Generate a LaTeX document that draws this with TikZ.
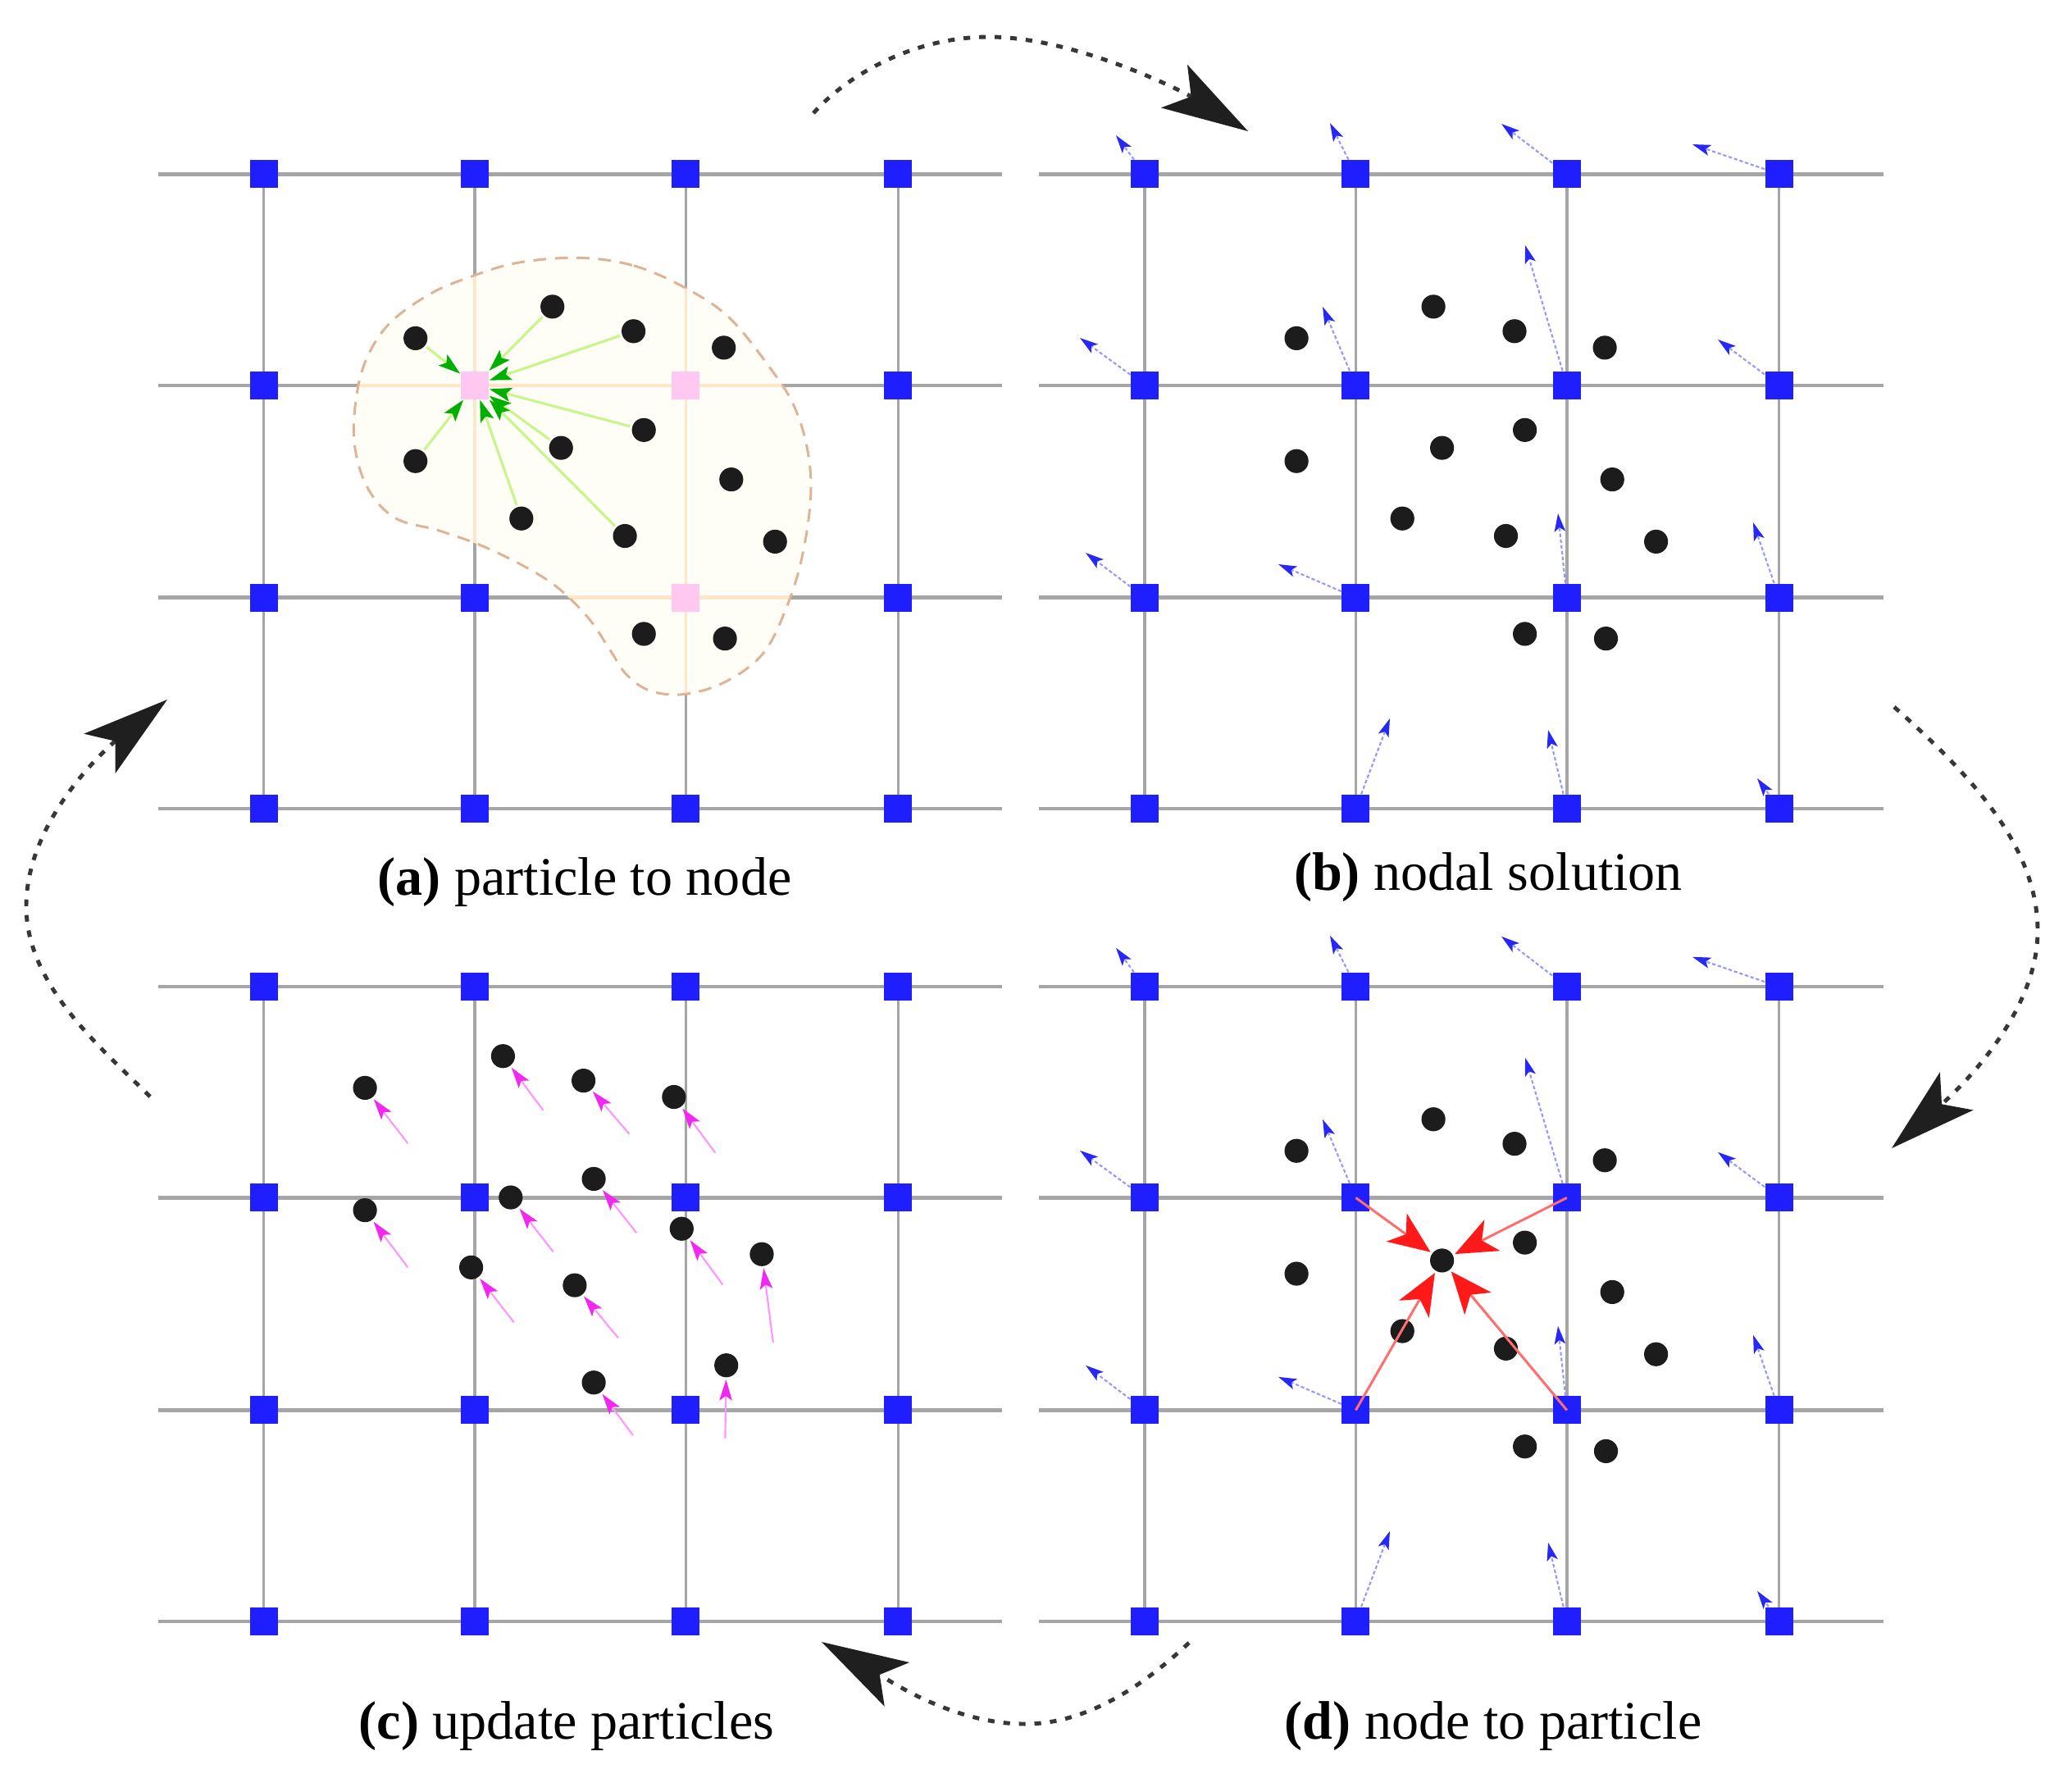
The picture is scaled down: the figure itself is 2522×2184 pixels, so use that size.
\documentclass[tikz,border=0pt]{standalone}
\usepackage{fontspec}
\setmainfont{Liberation Serif}
\usetikzlibrary{arrows.meta}
\definecolor{gridgray}{RGB}{165,165,165}
\definecolor{nodeblue}{RGB}{30,30,255}
\definecolor{dotblack}{RGB}{28,28,28}
\definecolor{blobfill}{RGB}{255,254,246}
\definecolor{blobedge}{RGB}{222,180,150}
\definecolor{peach}{RGB}{255,230,200}
\definecolor{pinknode}{RGB}{255,200,240}
\definecolor{greenline}{RGB}{200,245,140}
\definecolor{greenhead}{RGB}{0,175,0}
\definecolor{blueline}{RGB}{150,150,255}
\definecolor{bluehead}{RGB}{40,40,245}
\definecolor{magline}{RGB}{255,150,255}
\definecolor{maghead}{RGB}{240,40,240}
\definecolor{redline}{RGB}{255,110,110}
\definecolor{redhead}{RGB}{255,25,25}
\definecolor{cyclegray}{RGB}{55,55,55}
\begin{document}
\begin{tikzpicture}[x=0.01cm,y=-0.01cm,
  hline/.style={gridgray,line width=1.25pt},
  vline/.style={gridgray,line width=1.0pt},
  bsq/.style={rectangle,fill=nodeblue,minimum size=9.7pt,inner sep=0pt},
  psq/.style={rectangle,fill=pinknode,minimum size=9.7pt,inner sep=0pt},
  pdot/.style={circle,fill=dotblack,minimum size=8.3pt,inner sep=0pt,outer sep=0.8pt},
  garrow/.style={greenline,line width=0.9pt,-{Stealth[length=7.6pt,width=4.8pt,inset=1.5pt,color=greenhead]}},
  barrow/.style={blueline,line width=0.6pt,dash pattern=on 1.2pt off 0.8pt,-{Stealth[length=6.3pt,width=3.8pt,inset=1.4pt,color=bluehead]}},
  marrow/.style={magline,line width=0.6pt,-{Stealth[length=7.2pt,width=4.4pt,inset=1.5pt,color=maghead]}},
  rarrow/.style={redline,line width=0.85pt,-{Stealth[length=14.5pt,width=12pt,inset=4pt,color=redhead]}},
  cyc/.style={cyclegray,line width=1.4pt,dash pattern=on 2.3pt off 3.1pt,-{Stealth[length=29.9pt,width=17.4pt,inset=6.8pt,color=black!88]}},
  lbl/.style={anchor=base,font=\fontsize{18.8pt}{22pt}\selectfont,inner sep=0pt}
]
\fill[white] (0,0) rectangle (2522,2184);
\useasboundingbox (0,0) rectangle (2522,2184);

% ================= panel (a)
\foreach \y in {212.3,469.7,728.6,986.0} \draw[hline] (193,\y) -- (1222,\y);
\foreach \x in {321.7,579.0,836.4,1095.3} \draw[vline] (\x,212.3) -- (\x,986.0);
\fill[blobfill] plot[smooth cycle,tension=0.6] coordinates {(706.8,314.4) (773.1,324) (835.3,350.8) (889.2,387.2) (939,448.4) (968,494.3) (984.6,547.9) (988.7,605.3) (978.4,678) (959.7,739.2) (930.7,796.6) (885,831.1) (835.3,846.4) (793.9,842.6) (764.8,823.4) (744.1,792.8) (715.1,750.7) (669.5,708.6) (599,670.4) (536.8,647.4) (482.9,632.1) (449.8,597.6) (433.2,547.9) (433.2,494.3) (445.6,440.7) (474.6,394.8) (524.4,358.5) (574.1,337.4) (632.2,320.2)};
\begin{scope}
\clip plot[smooth cycle,tension=0.6] coordinates {(706.8,314.4) (773.1,324) (835.3,350.8) (889.2,387.2) (939,448.4) (968,494.3) (984.6,547.9) (988.7,605.3) (978.4,678) (959.7,739.2) (930.7,796.6) (885,831.1) (835.3,846.4) (793.9,842.6) (764.8,823.4) (744.1,792.8) (715.1,750.7) (669.5,708.6) (599,670.4) (536.8,647.4) (482.9,632.1) (449.8,597.6) (433.2,547.9) (433.2,494.3) (445.6,440.7) (474.6,394.8) (524.4,358.5) (574.1,337.4) (632.2,320.2)};
\foreach \y in {469.7,728.6} \draw[hline,peach] (193,\y) -- (1222,\y);
\foreach \x in {579.0,836.4} \draw[vline,peach] (\x,212.3) -- (\x,986.0);
\end{scope}
\draw[blobedge,line width=0.85pt,dash pattern=on 4.5pt off 3pt] plot[smooth cycle,tension=0.6] coordinates {(706.8,314.4) (773.1,324) (835.3,350.8) (889.2,387.2) (939,448.4) (968,494.3) (984.6,547.9) (988.7,605.3) (978.4,678) (959.7,739.2) (930.7,796.6) (885,831.1) (835.3,846.4) (793.9,842.6) (764.8,823.4) (744.1,792.8) (715.1,750.7) (669.5,708.6) (599,670.4) (536.8,647.4) (482.9,632.1) (449.8,597.6) (433.2,547.9) (433.2,494.3) (445.6,440.7) (474.6,394.8) (524.4,358.5) (574.1,337.4) (632.2,320.2)};
\foreach \x [count=\i] in {321.7,579.0,836.4,1095.3}
  \foreach \y [count=\j] in {212.3,469.7,728.6,986.0} {
    \pgfmathtruncatemacro\pk{((\i==2)&&(\j==2))||((\i==3)&&(\j==2))||((\i==3)&&(\j==3))}
    \ifnum\pk=1 \node[psq] (a\i\j) at (\x,\y) {}; \else \node[bsq] (a\i\j) at (\x,\y) {}; \fi
  }
\foreach \x/\y [count=\k] in {1581.1/412.4,1748.1/373.9,1847.0/403.8,1957.1/423.9,1581.1/562.2,1758.6/546.1,1859.6/524.3,1966.2/584.6,1710.2/632.2,1836.5/653.5,2019.6/660.4,1859.6/772.9,1958.5/778.6}
  \node[pdot] (ad\k) at (\x-1074.4,\y) {};
\foreach \k in {1,2,3,5,6,7,9,10} \draw[garrow] (ad\k) -- (a22);

% ================= panel (b)
\foreach \y in {212.3,469.7,728.6,986.0} \draw[hline] (1267,\y) -- (2297,\y);
\foreach \x in {1396.1,1653.4,1910.8,2169.7} \draw[vline] (\x,212.3) -- (\x,986.0);
\foreach \x [count=\i] in {1396.1,1653.4,1910.8,2169.7}
  \foreach \y [count=\j] in {212.3,469.7,728.6,986.0}
    \node[bsq] (b\i\j) at (\x,\y) {};
\foreach \x/\y [count=\k] in {1581.1/412.4,1748.1/373.9,1847.0/403.8,1957.1/423.9,1581.1/562.2,1758.6/546.1,1859.6/524.3,1966.2/584.6,1710.2/632.2,1836.5/653.5,2019.6/660.4,1859.6/772.9,1958.5/778.6}
  \node[pdot] (bd\k) at (\x,\y) {};
\foreach \n/\x/\y in {11/1361/165,21/1622/150,31/1831/151,41/2064/176,12/1317/412,22/1613/374,32/1860/299,42/2095/414,13/1324/674,23/1559/688,33/1900/626,43/2138/637,24/1695/876,34/1888/890,44/2143/949} {
  \coordinate (bt\n) at (\x,\y);
  \draw[barrow] (b\n) -- (bt\n);
}

% ================= panel (c)
\foreach \y in {1203.1,1460.4,1719.4,1976.7} \draw[hline] (193,\y) -- (1222,\y);
\foreach \x in {321.7,579.0,836.4,1095.3} \draw[vline] (\x,1203.1) -- (\x,1976.7);
\foreach \x [count=\i] in {321.7,579.0,836.4,1095.3}
  \foreach \y [count=\j] in {1203.1,1460.4,1719.4,1976.7}
    \node[bsq] (c\i\j) at (\x,\y) {};
\foreach \x/\y/\tx/\ty [count=\k] in {445.1/1326.4/497.3/1394.1,613.4/1287.7/662.5/1354.0,711.6/1317.6/767.4/1382.6,821.9/1337.5/872.3/1405.6,445.1/1475.6/497.3/1545.3,622.8/1460.0/674.6/1526.2,724.1/1437.4/776.3/1503.2,831.3/1498.2/881.3/1566.3,574.6/1545.3/626.8/1612.3,700.9/1567.1/754.0/1631.4,929.0/1529.2/942.9/1637.1,724.1/1685.7/771.9/1750.0,885.7/1664.7/884.4/1753.9} {
  \node[pdot] (cd\k) at (\x,\y) {};
  \coordinate (ct\k) at (\tx,\ty);
  \draw[marrow] (ct\k) -- (cd\k);
}

% ================= panel (d)
\foreach \y in {1203.1,1460.4,1719.4,1976.7} \draw[hline] (1267,\y) -- (2297,\y);
\foreach \x in {1396.1,1653.4,1910.8,2169.7} \draw[vline] (\x,1203.1) -- (\x,1976.7);
\foreach \x [count=\i] in {1396.1,1653.4,1910.8,2169.7}
  \foreach \y [count=\j] in {1203.1,1460.4,1719.4,1976.7}
    \node[bsq] (d\i\j) at (\x,\y) {};
\foreach \x/\y [count=\k] in {1581.1/412.4,1748.1/373.9,1847.0/403.8,1957.1/423.9,1581.1/562.2,1758.6/546.1,1859.6/524.3,1966.2/584.6,1710.2/632.2,1836.5/653.5,2019.6/660.4,1859.6/772.9,1958.5/778.6}
  \node[pdot] (dd\k) at (\x,\y+990.8) {};
\foreach \n/\x/\y in {11/1361/165,21/1622/150,31/1831/151,41/2064/176,12/1317/412,22/1613/374,32/1860/299,42/2095/414,13/1324/674,23/1559/688,33/1900/626,43/2138/637,24/1695/876,34/1888/890,44/2143/949} {
  \coordinate (dt\n) at (\x,\y+990.8);
  \draw[barrow] (d\n) -- (dt\n);
}
\foreach \n in {22,32,23,33} \draw[rarrow] (d\n.center) -- (dd6);

% ================= cycle arrows
\coordinate (s1) at (992,138);   \coordinate (e1) at (1522,160);
\coordinate (s2) at (2310,862);  \coordinate (e2) at (2307,1400);
\coordinate (s3) at (1450,2003); \coordinate (e3) at (1002,2002);
\coordinate (s4) at (183,1337);  \coordinate (e4) at (204,853);
\draw[cyc] (s1) .. controls (1030,95) and (1110,45) .. (1206,45) .. controls (1310,45) and (1440,110) .. (e1);
\draw[cyc] (s2) .. controls (2400,942) and (2485,1030) .. (2485,1135) .. controls (2485,1240) and (2382,1334) .. (e2);
\draw[cyc] (s3) .. controls (1400,2050) and (1330,2102) .. (1250,2102) .. controls (1160,2102) and (1080,2046) .. (e3);
\draw[cyc] (s4) .. controls (120,1275) and (32,1200) .. (32,1105) .. controls (32,1000) and (130,912) .. (e4);

% ================= labels
\node[lbl] (la) at (713,1091) {\textbf{(a)} particle to node};
\node[lbl] (lb) at (1815,1085) {\textbf{(b)} nodal solution};
\node[lbl] (lc) at (691,2120) {\textbf{(c)} update particles};
\node[lbl] (ld) at (1821,2120) {\textbf{(d)} node to particle};
\end{tikzpicture}
\end{document}
